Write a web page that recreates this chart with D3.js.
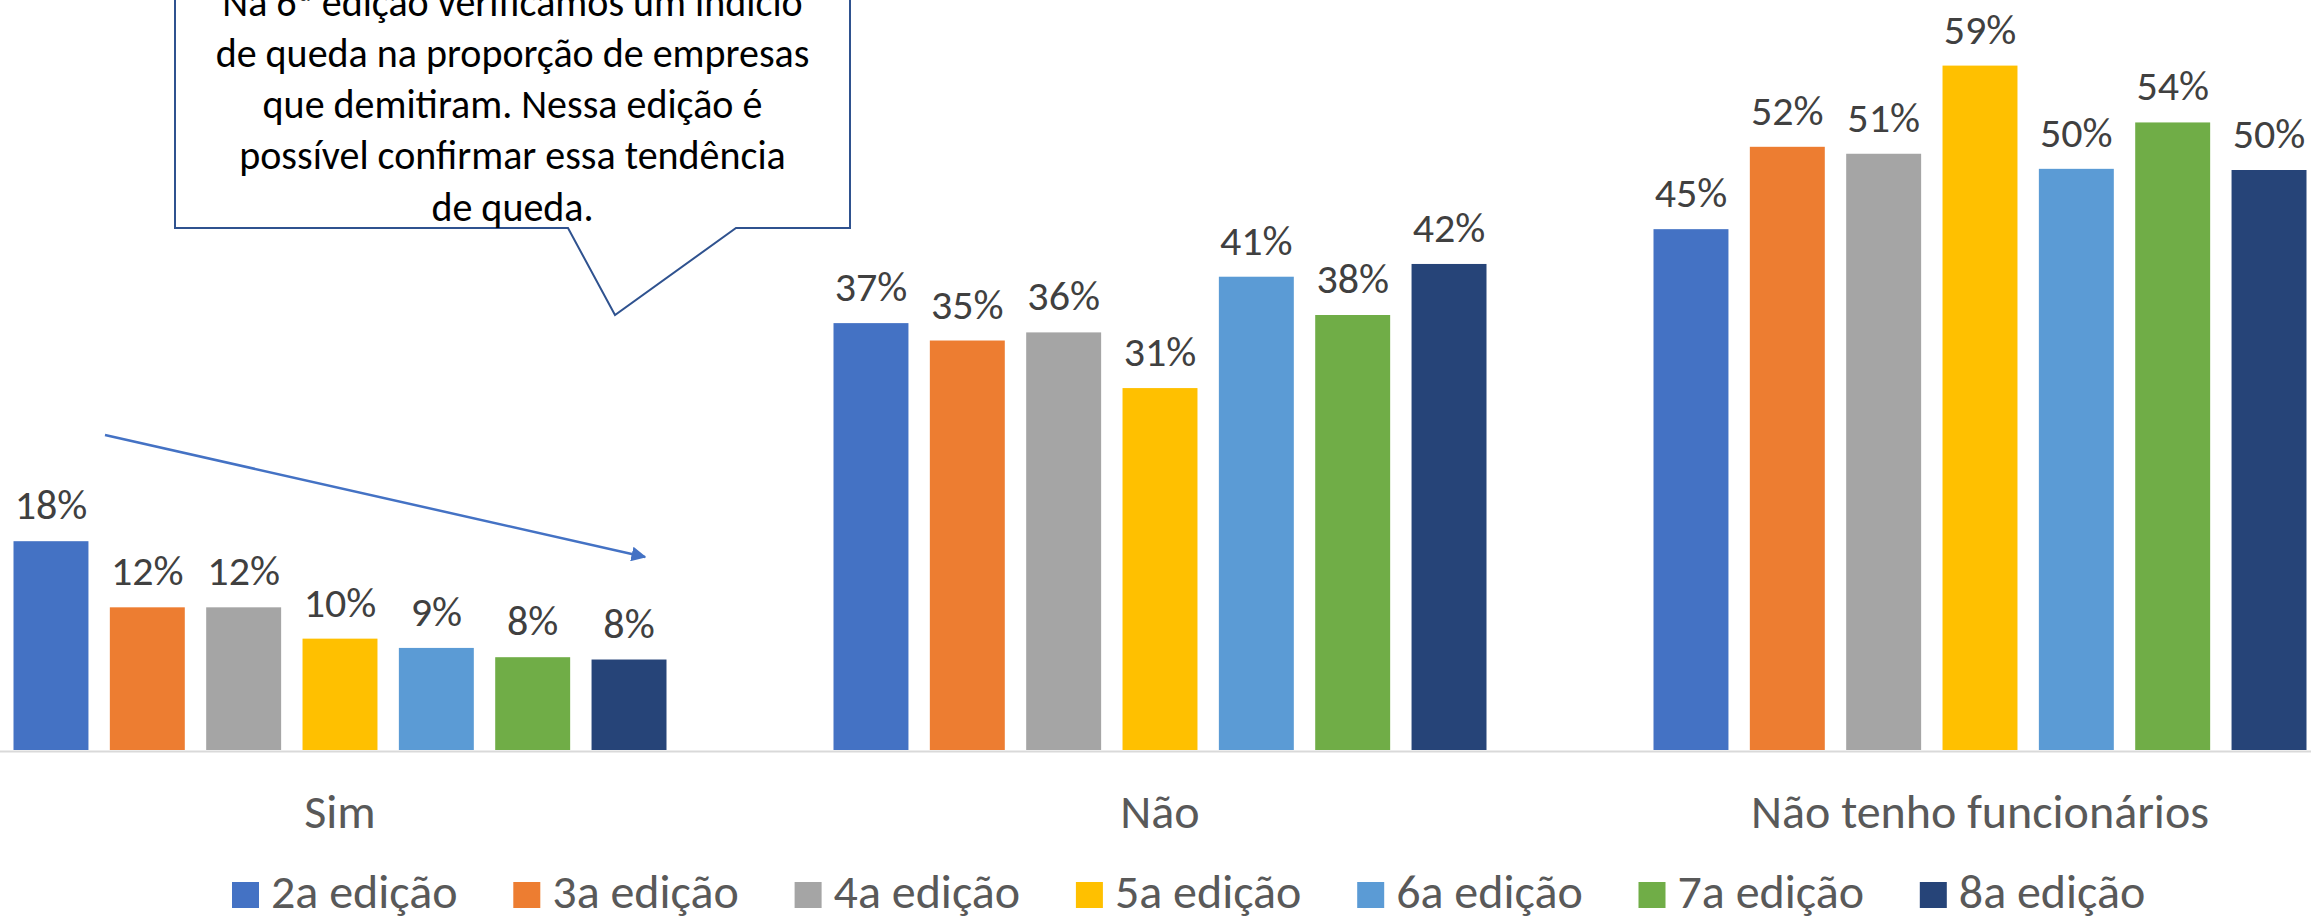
<!DOCTYPE html>
<html>
<head>
<meta charset="utf-8">
<script src="https://cdn.jsdelivr.net/npm/d3@7"></script>
<style>
  html, body { margin: 0; padding: 0; background: #fff; }
  svg { display: block; font-family: Carlito, Calibri, Lato, sans-serif; }
</style>
</head>
<body>
<div id="plot-container"></div>
<script>
// chart data
var categories = ['Sim', 'Não', 'Não tenho funcionários'];
var editions = ['2a edição', '3a edição', '4a edição', '5a edição', '6a edição', '7a edição', '8a edição'];
var colors = ['#4472C4', '#ED7D31', '#A5A5A5', '#FFC000', '#5B9BD5', '#70AD47', '#264478'];
var simValues = [0.180, 0.123, 0.123, 0.096, 0.088, 0.080, 0.078];
var naoValues = [0.368, 0.353, 0.360, 0.312, 0.408, 0.375, 0.419];
var naoTenhoValues = [0.449, 0.520, 0.514, 0.590, 0.501, 0.541, 0.500];
var noteLines = ['Na 6ª edição verificamos um indício', 'de queda na proporção de empresas',
  'que demitiram. Nessa edição é', 'possível confirmar essa tendência', 'de queda.'];

var totalWidth = 2311, totalHeight = 917;
var margins = {left: -70, right: -79, baseline: 750};

var rows = [
  {category: categories[0], values: simValues},
  {category: categories[1], values: naoValues},
  {category: categories[2], values: naoTenhoValues}
];

var x0 = d3.scaleBand().domain(categories).range([margins.left, totalWidth - margins.right]);
var x1 = d3.scaleBand().domain(editions).range([83.5, x0.bandwidth() - 83.5]).paddingInner(0.222);
var y = d3.scaleLinear().domain([0, 0.7]).range([margins.baseline, margins.baseline - 0.7 * 1160]);
var color = d3.scaleOrdinal().domain(editions).range(colors);
var pct = d3.format('.0%');

var svg = d3.select('#plot-container').append('svg').attr('width', totalWidth).attr('height', totalHeight);

// bars + labels
var groups = svg.selectAll('g.group').data(rows).enter().append('g').attr('class', 'group')
  .attr('transform', function(d) { return 'translate(' + [x0(d.category), 0] + ')'; });

var cells = function(d) { return d.values.map(function(v, i) { return {edition: editions[i], value: v}; }); };

groups.selectAll('rect.bar').data(cells).enter().append('rect').attr('class', 'bar')
  .attr('x', function(d) { return x1(d.edition); })
  .attr('y', function(d) { return y(d.value); })
  .attr('width', x1.bandwidth())
  .attr('height', function(d) { return y(0) - y(d.value); })
  .attr('fill', function(d) { return color(d.edition); });

groups.selectAll('text.label').data(cells).enter().append('text').attr('class', 'label')
  .attr('x', function(d) { return x1(d.edition) + x1.bandwidth() / 2; })
  .attr('y', function(d) { return y(d.value) - 22; })
  .attr('text-anchor', 'middle').attr('fill', '#404040').style('font-size', '42px')
  .text(function(d) { return pct(d.value); });

// category axis
svg.append('line').attr('x1', 0).attr('x2', totalWidth)
  .attr('y1', y(0) + 1.5).attr('y2', y(0) + 1.5).attr('stroke', '#d9d9d9').attr('stroke-width', 2);

svg.selectAll('text.cat').data(categories).enter().append('text').attr('class', 'cat')
  .attr('x', function(d) { return x0(d) + x0.bandwidth() / 2; }).attr('y', 828)
  .attr('text-anchor', 'middle').attr('fill', '#595959').style('font-size', '48px')
  .text(function(d) { return d; });

// legend
var legend = svg.append('g').attr('transform', 'translate(232,0)');
var items = legend.selectAll('g.item').data(editions).enter().append('g').attr('class', 'item')
  .attr('transform', function(d, i) { return 'translate(' + [i * 281.3, 0] + ')'; });
items.append('rect').attr('y', 882).attr('width', 27).attr('height', 26).attr('fill', function(d) { return color(d); });
items.append('text').attr('x', 39).attr('y', 908).attr('fill', '#595959').style('font-size', '48px')
  .text(function(d) { return d; });

// trend arrow
var defs = svg.append('defs');
defs.append('marker').attr('id', 'arrow').attr('viewBox', '0 0 10 10').attr('refX', 9).attr('refY', 5)
  .attr('markerWidth', 6).attr('markerHeight', 6).attr('orient', 'auto').attr('markerUnits', 'strokeWidth')
  .append('path').attr('d', 'M0,0 L10,5 L0,10 Z').attr('fill', '#4472C4');
svg.append('line').attr('x1', 105).attr('y1', 435).attr('x2', 645).attr('y2', 557)
  .attr('stroke', '#4472C4').attr('stroke-width', 2.5).attr('marker-end', 'url(#arrow)');

// callout
var box = {left: 175, right: 850, top: -40, bottom: 228};
svg.append('path')
  .attr('d', 'M' + [box.left, box.top] + 'L' + [box.right, box.top] + 'L' + [box.right, box.bottom] +
    'L' + [736, box.bottom] + 'L' + [615, 315] + 'L' + [568, box.bottom] + 'L' + [box.left, box.bottom] + 'Z')
  .attr('fill', '#fff').attr('stroke', '#2F528F').attr('stroke-width', 2);
svg.selectAll('text.note').data(noteLines).enter().append('text').attr('class', 'note')
  .attr('x', (box.left + box.right) / 2).attr('y', function(d, i) { return 15.5 + i * 51.3; })
  .attr('text-anchor', 'middle').attr('fill', '#000').style('font-size', '40px')
  .text(function(d) { return d; });
</script>
</body>
</html>
